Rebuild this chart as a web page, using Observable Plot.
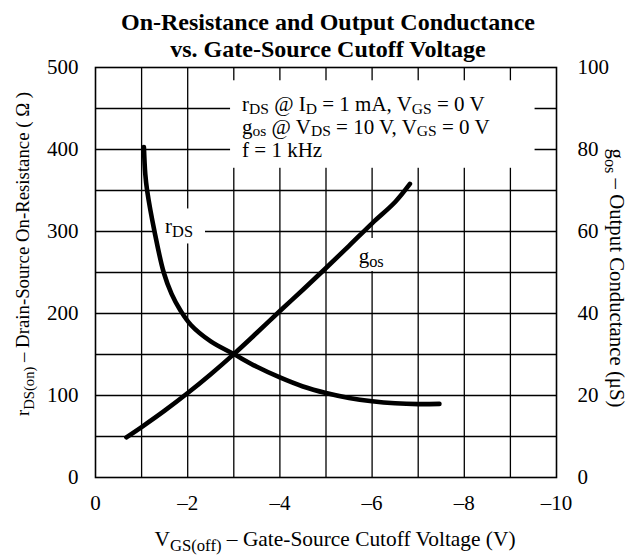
<!DOCTYPE html>
<html><head><meta charset="utf-8">
<script src="https://cdn.jsdelivr.net/npm/d3@7"></script>
<script src="https://cdn.jsdelivr.net/npm/@observablehq/plot@0.6"></script>
<style>
body{margin:0;background:#fff}
svg text{white-space:pre}
</style>
</head><body><div id="chart"></div>
<script>
// ---- data ----
const rdsVolts = [-1.05, -1.08, -1.12, -1.28, -1.48, -1.65, -1.84, -2.07, -2.5, -3.0, -3.5, -4.0, -4.5, -5.0, -5.5, -6.0, -6.5, -7.0, -7.46];
const rdsOhms  = [403, 370, 350, 300, 250, 224, 204, 186, 166, 150.5, 135, 122, 111, 103, 97, 93, 90.5, 89.5, 89.8];
const gosVolts = [-0.67, -1.0, -1.5, -2.0, -2.5, -3.0, -3.5, -4.0, -4.5, -5.0, -5.5, -6.0, -6.5, -6.82];
const gosMicroS = [9.8, 12.3, 16.3, 20.6, 25.2, 30.1, 35.3, 40.6, 45.8, 51.1, 56.5, 62.0, 67.2, 71.6];
const xTicks = [0, -2, -4, -6, -8, -10];
const xGridLines = [-1, -2, -3, -4, -5, -6, -7, -8, -9];
const leftTicks = [0, 100, 200, 300, 400, 500];
const leftGridLines = [50, 100, 150, 200, 250, 300, 350, 400, 450];
const rightTicks = [0, 20, 40, 60, 80, 100];

const titleLines = ["On-Resistance and Output Conductance", "vs. Gate-Source Cutoff Voltage"];
const legendLines = [
  [["r"],["DS",1],[" @ I"],["D",1],[" = 1 mA, V"],["GS",1],[" = 0 V"]],
  [["g"],["os",1],[" @ V"],["DS",1],[" = 10 V, V"],["GS",1],[" = 0 V"]],
  [["f = 1 kHz"]]
];
const xTitle = [["V"],["GS(off)",1],[" – Gate-Source Cutoff Voltage (V)"]];
const leftTitle = [["r"],["DS(on)",1],[" – Drain-Source On-Resistance ( Ω )"]];
const rightTitle = [["g"],["os",1],[" – Output Conductance (μS)"]];
const rdsLabel = [["r"],["DS",1]];
const gosLabel = [["g"],["os",1]];

// ---- build ----
const ratio = leftTicks[leftTicks.length-1] / rightTicks[rightTicks.length-1];
const rds = rdsVolts.map((v,i) => ({v, r: rdsOhms[i]}));
const gos = gosVolts.map((v,i) => ({v, g: gosMicroS[i]}));
const fmt = d => d < 0 ? "–" + Math.abs(d) : String(d);
const FONT = '"Liberation Serif", "Times New Roman", serif';

const plot = Plot.plot({
  width: 630, height: 555,
  marginLeft: 95, marginRight: 74, marginTop: 67, marginBottom: 78,
  style: {fontFamily: FONT, fontSize: "21px", background: "white", color: "black", overflow: "visible"},
  x: {domain: [0, -10], label: null},
  y: {domain: [0, 500], label: null},
  marks: [
    Plot.gridX(xGridLines, {stroke: "black", strokeOpacity: 1, strokeWidth: 1.3}),
    Plot.gridY(leftGridLines, {stroke: "black", strokeOpacity: 1, strokeWidth: 1.3}),
    Plot.frame({stroke: "black", strokeWidth: 1.6}),
    Plot.axisX(xTicks, {anchor: "bottom", tickSize: 0, tickPadding: 18, tickFormat: fmt, label: null}),
    Plot.axisY(leftTicks, {anchor: "left", tickSize: 0, tickPadding: 17, label: null}),
    Plot.axisY(rightTicks.map(t => t * ratio), {anchor: "right", tickSize: 0, tickPadding: 21, tickFormat: d => String(d / ratio), label: null}),
    Plot.line(rds, {x: "v", y: "r", stroke: "black", strokeWidth: 4.6, curve: "catmull-rom"}),
    Plot.line(gos, {x: "v", y: d => d.g * ratio, stroke: "black", strokeWidth: 4.6, curve: "catmull-rom"})
  ]
});
document.getElementById("chart").appendChild(plot);

const sx = plot.scale("x"), sy = plot.scale("y");
const svg = d3.select(plot);

function rich(parent, parts, {x = 0, y = 0, anchor = "start", size = 21, transform = null, weight = null, subScale = 0.78, subDrop = 5}) {
  const t = parent.append("text")
    .attr("x", x).attr("y", y)
    .attr("text-anchor", anchor)
    .attr("font-size", size)
    .attr("font-family", FONT)
    .attr("fill", "black");
  if (transform) t.attr("transform", transform);
  if (weight) t.attr("font-weight", weight);
  let shift = 0;
  for (const [s, sub] of parts) {
    const ts = t.append("tspan").text(s);
    const target = sub ? subDrop : 0;
    if (target !== shift) { ts.attr("dy", target - shift); shift = target; }
    if (sub) ts.attr("font-size", size * subScale);
  }
  return t;
}
function boxAround(g, nodes, pad) {
  let x0 = Infinity, y0 = Infinity, x1 = -Infinity, y1 = -Infinity;
  for (const n of nodes) {
    const b = n.getBBox();
    x0 = Math.min(x0, b.x); y0 = Math.min(y0, b.y);
    x1 = Math.max(x1, b.x + b.width); y1 = Math.max(y1, b.y + b.height);
  }
  g.append("rect")
    .attr("x", x0 - pad[3]).attr("y", y0 - pad[0])
    .attr("width", x1 - x0 + pad[1] + pad[3])
    .attr("height", y1 - y0 + pad[0] + pad[2])
    .attr("fill", "white");
}

// annotation layer beneath the curves, above the grid
const ann = svg.insert("g", 'g[aria-label="line"]');
const boxes = ann.append("g");
const labels = ann.append("g");

// legend block
const legX = sx.apply(-3.19), legY = sy.apply(446);
const legLead = [0, 22.5, 45.5];
const legNodes = legendLines.map((ln, i) => rich(labels, ln, {x: legX, y: legY + legLead[i], size: 21, subScale: 0.74, subDrop: 2.5}).node());
boxAround(boxes, legNodes, [12, 45, 6, 12]);

// curve labels
const rl = rich(labels, rdsLabel, {x: sx.apply(-1.52), y: sy.apply(297), subDrop: 4});
boxAround(boxes, [rl.node()], [6, 12, 2, 10]);
const gl = rich(labels, gosLabel, {x: sx.apply(-5.72), y: sy.apply(261), subDrop: 4});
boxAround(boxes, [gl.node()], [6, 6, 0, 5]);

// titles and axis titles
const outer = svg.append("g");
titleLines.forEach((s, i) => rich(outer, [[s]], {x: 328, y: 30 + i * 27, anchor: "middle", size: 24, weight: "bold"}));
rich(outer, xTitle, {x: 335, y: 546, anchor: "middle", size: 21.4});
rich(outer, leftTitle, {anchor: "middle", size: 18.8, transform: "translate(29,254) rotate(-90)"});
rich(outer, rightTitle, {anchor: "middle", size: 20.8, transform: "translate(610,278) rotate(90)"});
</script>
</body></html>
